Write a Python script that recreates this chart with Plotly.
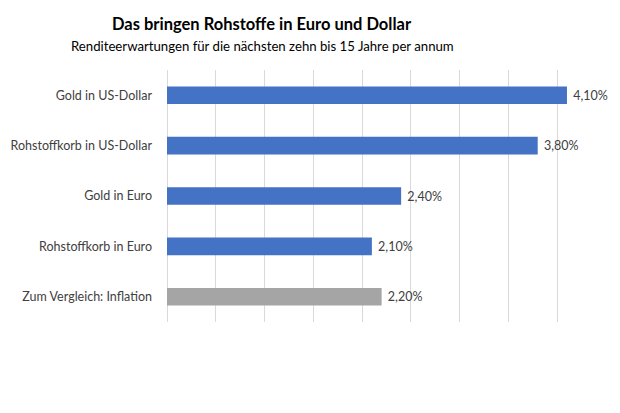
import plotly.graph_objects as go

categories = ["Gold in US-Dollar", "Rohstoffkorb in US-Dollar", "Gold in Euro",
              "Rohstoffkorb in Euro", "Zum Vergleich: Inflation"]
values = [4.10, 3.80, 2.40, 2.10, 2.20]
bar_colors = ["#4472C4", "#4472C4", "#4472C4", "#4472C4", "#A5A5A5"]
labels = [" " + f"{v:.2f}".replace(".", ",") + "%" for v in values]

FONT = "Lato, Open Sans, sans-serif"

fig = go.Figure(go.Bar(
    y=categories, x=values, orientation="h",
    marker=dict(color=bar_colors, line=dict(width=0)),
    text=labels, textposition="outside", cliponaxis=False,
    textfont=dict(family=FONT, size=12.5, color="#404040"),
    width=0.35,
))

# page body has an 8px margin; figure is sized/offset to fit the 620x413 window
W, H = 604, 397
L, R, T, B = 158.5, 5.5, 61.75, 82.75
PW = W - L - R
fig.update_layout(
    template="none",
    width=W, height=H,
    margin=dict(l=L, r=R, t=T, b=B, autoexpand=False),
    paper_bgcolor="white", plot_bgcolor="white",
    showlegend=False,
    font=dict(family=FONT, size=12.5, color="#404040"),
    xaxis=dict(range=[0, 4.5], dtick=0.5, showgrid=True, gridcolor="#D9D9D9",
               gridwidth=1, zeroline=True, zerolinecolor="#D9D9D9", zerolinewidth=1,
               showticklabels=False, showline=False,
               automargin=False, fixedrange=True, ticks=""),
    yaxis=dict(categoryorder="array", categoryarray=categories[::-1],
               autorange=False, range=[-0.5, 4.5], automargin=False,
               showgrid=False, zeroline=False, showline=False,
               ticks="", ticklabelstandoff=14,
               tickfont=dict(family=FONT, size=12.5, color="#404040")),
    annotations=[
        dict(text="<b>Das bringen Rohstoffe in Euro und Dollar</b>",
             xref="paper", yref="paper", x=(254 - L) / PW, y=1,
             yshift=46, xanchor="center", yanchor="middle", showarrow=False,
             font=dict(family=FONT, size=16.5, color="#000000")),
        dict(text="Renditeerwartungen für die nächsten zehn bis 15 Jahre per annum",
             xref="paper", yref="paper", x=(254 - L) / PW, y=1,
             yshift=24, xanchor="center", yanchor="middle", showarrow=False,
             font=dict(family=FONT, size=13.2, color="#000000")),
    ],
)

fig.write_html("out.html")
